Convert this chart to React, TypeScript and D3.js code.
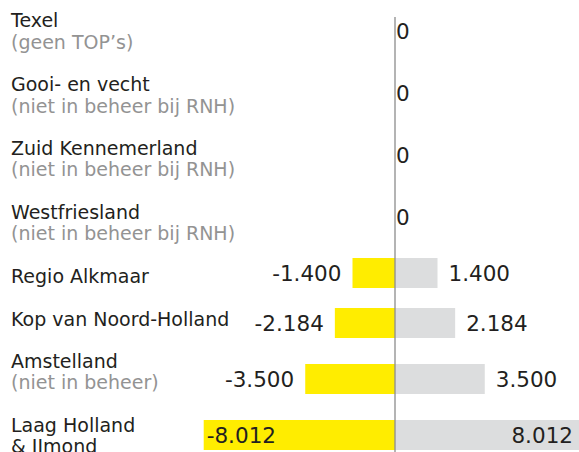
import React from "react";
import * as d3 from "d3";

const categories = [
  "Texel",
  "Gooi- en vecht",
  "Zuid Kennemerland",
  "Westfriesland",
  "Regio Alkmaar",
  "Kop van Noord-Holland",
  "Amstelland",
  "Laag Holland\n& IJmond",
];
const notes = [
  "(geen TOP’s)",
  "(niet in beheer bij RNH)",
  "(niet in beheer bij RNH)",
  "(niet in beheer bij RNH)",
  "",
  "",
  "(niet in beheer)",
  "",
];
const values = [0, 0, 0, 0, 1400, 2184, 3500, 8012];

const W = 579;
const H = 452;
const AXIS_X = 395;
const FONT = "'DejaVu Sans', Verdana, sans-serif";
const DARK = "#231f20";
const GREY_TXT = "#939393";
const YELLOW = "#ffed00";
const GREY_BAR = "#dcddde";

const nl = d3.formatLocale({
  decimal: ",",
  thousands: ".",
  grouping: [3],
  currency: ["€", ""],
  minus: "-",
});
const fmt = nl.format(",d");

export default function App() {
  const rowH = notes.map((n) => (n ? 62 : 50));
  const tops = [0, ...Array.from(d3.cumsum(rowH))];
  const centers = rowH.map((h, i) => tops[i] + h / 2);
  const w = d3
    .scaleLinear()
    .domain([0, d3.max(values) as number])
    .range([11, 191.3]);
  const lineY = d3.scaleLinear().domain([0, 1]).range([27.3, 48.6]);

  const labelEls: React.ReactNode[] = [];
  let line = 0;
  categories.forEach((c, i) => {
    c.split("\n").forEach((t, j) => {
      labelEls.push(
        <text key={`t${i}-${j}`} x={11} y={lineY(line)} fill={DARK} fontSize={19}>
          {t}
        </text>
      );
      line++;
    });
    if (notes[i]) {
      labelEls.push(
        <text key={`n${i}`} x={11} y={lineY(line)} fill={GREY_TXT} fontSize={19}>
          {notes[i]}
        </text>
      );
      line++;
    }
    line++;
  });

  return (
    <svg
      width={W}
      height={H}
      style={{ position: "absolute", left: 0, top: 0, fontFamily: FONT }}
    >
      <rect width={W} height={H} fill="#fff" />
      {labelEls}
      {values.map((v, i) => {
        const cy = centers[i];
        if (v === 0) {
          return (
            <text key={`z${i}`} x={AXIS_X + 1} y={cy} dy="0.36em" fontSize={21.5} fill={DARK}>
              {fmt(0)}
            </text>
          );
        }
        const bw = w(v);
        const inside = bw > 150;
        return (
          <g key={`b${i}`}>
            <rect x={AXIS_X - bw} y={cy - 15} width={bw} height={30} fill={YELLOW} />
            <rect x={AXIS_X} y={cy - 15} width={bw} height={30} fill={GREY_BAR} />
            <text
              x={inside ? AXIS_X - bw + 3 : AXIS_X - bw - 11}
              y={cy}
              dy="0.36em"
              textAnchor={inside ? "start" : "end"}
              fontSize={21.5}
              fill={DARK}
            >
              {fmt(-v)}
            </text>
            <text
              x={inside ? Math.min(AXIS_X + bw, W) - 6 : AXIS_X + bw + 11}
              y={cy}
              dy="0.36em"
              textAnchor={inside ? "end" : "start"}
              fontSize={21.5}
              fill={DARK}
            >
              {fmt(v)}
            </text>
          </g>
        );
      })}
      <line
        x1={AXIS_X}
        x2={AXIS_X}
        y1={tops[0] + 17}
        y2={tops[tops.length - 1]}
        stroke="#8c8c8c"
        strokeWidth={1.3}
      />
    </svg>
  );
}
